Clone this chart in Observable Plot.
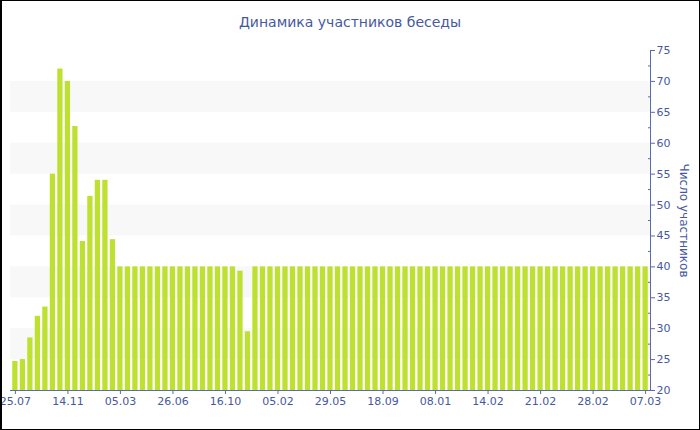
<!DOCTYPE html>
<html>
<head>
<meta charset="utf-8">
<script src="https://cdn.jsdelivr.net/npm/d3@7"></script>
<script src="https://cdn.jsdelivr.net/npm/@observablehq/plot@0.6"></script>
<style>
  html, body { margin: 0; padding: 0; background: #fff; }
  #wrap { position: relative; width: 700px; height: 430px; overflow: hidden; background: #fff; font-family: "DejaVu Sans", Verdana, sans-serif; }
  #title { position: absolute; top: 12px; left: 0; width: 700px; text-align: center; font-size: 14px; line-height: 20px; color: #4659a0; }
  #chart { position: absolute; top: 40px; left: 0; }
  #border { position: absolute; left: 0; top: 0; width: 700px; height: 430px; box-sizing: border-box; border: 1px solid #000; border-left-width: 2px; pointer-events: none; }
</style>
</head>
<body>
<div id="wrap">
  <div id="title">Динамика участников беседы</div>
  <div id="chart"></div>
  <div id="border"></div>
</div>
<script>
// Number of participants per period (one bar per period)
const values = [
  24.7, 25.0, 28.5, 32.0, 33.5, 55.0, 72.0, 70.0, 62.7, 44.1,
  51.4, 54.0, 54.0, 44.4, 40, 40, 40, 40, 40, 40,
  40, 40, 40, 40, 40, 40, 40, 40, 40, 40,
  39.3, 29.5, 40, 40, 40, 40, 40, 40, 40, 40,
  40, 40, 40, 40, 40, 40, 40, 40, 40, 40,
  40, 40, 40, 40, 40, 40, 40, 40, 40, 40,
  40, 40, 40, 40, 40, 40, 40, 40, 40, 40,
  40, 40, 40, 40, 40, 40, 40, 40, 40, 40,
  40, 40, 40, 40, 40
];
// Labels shown under every 7th bar
const xTickLabels = ["25.07", "14.11", "05.03", "26.06", "16.10", "05.02", "29.05", "18.09", "08.01", "14.02", "21.02", "28.02", "07.03"];
const tickEvery = 7;
const yTicks = [20, 25, 30, 35, 40, 45, 50, 55, 60, 65, 70, 75];
const yMinorTicks = [22.5, 27.5, 32.5, 37.5, 42.5, 47.5, 52.5, 57.5, 62.5, 67.5, 72.5];
const bandLow = [25, 35, 45, 55, 65];
const bandHigh = [30, 40, 50, 60, 70];
const yLabel = "Число участников";

const textColor = "#4659a0";
const axisColor = "#5a6bb0";
const barColor = "#bde031";

const rows = values.map((v, i) => ({i, v}));
const bands = bandLow.map((lo, k) => ({lo, hi: bandHigh[k]}));
const yMin = yTicks[0];
const xTicks = xTickLabels.map((_, k) => k * tickEvery);

const chart = Plot.plot({
  width: 700,
  height: 390,
  marginTop: 10,
  marginBottom: 40,
  marginLeft: 10,
  marginRight: 50,
  x: {type: "band", domain: rows.map(d => d.i), padding: 0.3, axis: null},
  y: {domain: [yTicks[0], yTicks[yTicks.length - 1]], axis: null},
  style: {fontFamily: "DejaVu Sans, Verdana, sans-serif", fontSize: "11px", color: textColor, background: "transparent"},
  marks: [
    Plot.rect(bands, {y1: "lo", y2: "hi", fill: "#f8f8f8"}),
    Plot.barY(rows, {x: "i", y1: yMin, y2: "v", fill: barColor}),
    Plot.ruleY([yMin], {stroke: axisColor}),
    Plot.frame({anchor: "right", stroke: axisColor}),
    Plot.axisX({ticks: xTicks, tickFormat: i => xTickLabels[i / tickEvery], tickSize: 4, tickPadding: 3, stroke: axisColor, fill: textColor, label: null}),
    Plot.axisY({anchor: "right", ticks: yTicks, tickSize: 4, tickPadding: 2, stroke: axisColor, fill: textColor, label: null}),
    Plot.axisY({anchor: "right", ticks: yMinorTicks, tickSize: -3, tickFormat: () => "", stroke: axisColor, label: null}),
    Plot.text([yLabel], {frameAnchor: "right", textAnchor: "middle", rotate: 90, dx: 33, fontSize: 12, fill: textColor})
  ]
});
document.getElementById("chart").appendChild(chart);
</script>
</body>
</html>
